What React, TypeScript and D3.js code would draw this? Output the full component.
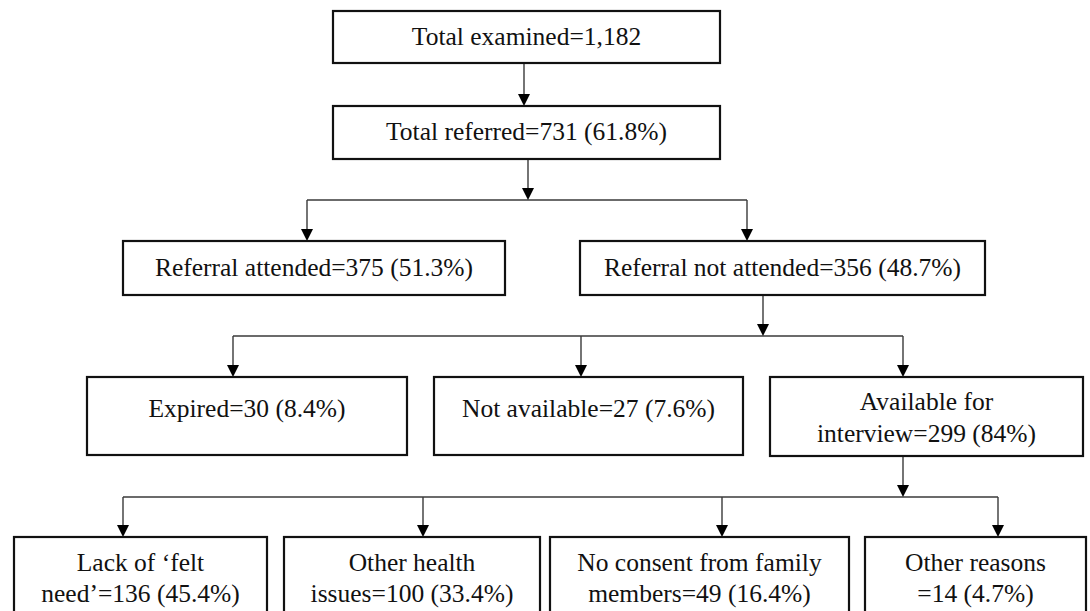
import React, { useEffect, useRef } from "react";
import * as d3 from "d3";

// flow data
const categories = [
  "Total examined",
  "Total referred",
  "Referral attended",
  "Referral not attended",
  "Expired",
  "Not available",
  "Available for interview",
  "Lack of \u2018felt need\u2019",
  "Other health issues",
  "No consent from family members",
  "Other reasons",
];
const counts = [1182, 731, 375, 356, 30, 27, 299, 136, 100, 49, 14];
const percents = ["", "61.8", "51.3", "48.7", "8.4", "7.6", "84", "45.4", "33.4", "16.4", "4.7"];
const parents = [-1, 0, 1, 1, 3, 3, 3, 6, 6, 6, 6];
// where the label wraps (characters of the category kept on line 1), -1 = no wrap
const wrapAt = [-1, -1, -1, -1, -1, -1, 13, 13, 12, 22, 13];

// layout (px)
const W = 1090;
const H = 611;
const boxes = [
  { x0: 333, x1: 720, y0: 11, y1: 63, base: [45] },
  { x0: 333, x1: 720, y0: 106, y1: 159, base: [140] },
  { x0: 123, x1: 505, y0: 241, y1: 295, base: [276] },
  { x0: 580, x1: 985, y0: 241, y1: 295, base: [276] },
  { x0: 87, x1: 407, y0: 377, y1: 455, base: [417] },
  { x0: 434, x1: 743, y0: 377, y1: 455, base: [417] },
  { x0: 770, x1: 1083, y0: 377, y1: 456, base: [410, 442] },
  { x0: 14, x1: 267, y0: 537, y1: 620, base: [571, 602] },
  { x0: 284, x1: 540, y0: 537, y1: 620, base: [571, 602] },
  { x0: 550, x1: 849, y0: 537, y1: 620, base: [571, 602] },
  { x0: 865, x1: 1086, y0: 537, y1: 620, base: [571, 602] },
];
const inX = [0, 524, 307, 747, 233, 581, 903, 123, 423, 722, 998];
const outX: Record<number, number> = { 0: 524, 1: 528, 3: 763, 6: 903 };
const busY: Record<number, number> = { 1: 200, 3: 336, 6: 497 };

const fmt = d3.format(",");

const labelLines = (i: number) => {
  const tail = `=${fmt(counts[i])}${percents[i] ? ` (${percents[i]}%)` : ""}`;
  const name = categories[i];
  if (wrapAt[i] < 0) return [name + tail];
  return [name.slice(0, wrapAt[i]).trim(), name.slice(wrapAt[i]).trim() + tail];
};

const App = () => {
  const ref = useRef<SVGSVGElement>(null);

  useEffect(() => {
    document.body.style.margin = "0";
    const svg = d3.select(ref.current);
    svg.selectAll("*").remove();

    const head = 12;
    const arrowHead = (x: number, y: number) =>
      `M${x},${y}L${x - head / 2},${y - head}L${x + head / 2},${y - head}Z`;

    const links = svg.append("g");
    const heads: [number, number][] = [];
    const line = d3.line();

    // connectors
    Object.keys(outX).forEach((k) => {
      const p = +k;
      const kids = d3.range(categories.length).filter((i) => parents[i] === p);
      const ox = outX[p];
      if (busY[p] === undefined) {
        const c = kids[0];
        links.append("path").attr("d", line([[ox, boxes[p].y1], [ox, boxes[c].y0 - head]]));
        heads.push([ox, boxes[c].y0]);
        return;
      }
      const by = busY[p];
      links.append("path").attr("d", line([[ox, boxes[p].y1], [ox, by - head]]));
      heads.push([ox, by]);
      const xs = kids.map((c) => inX[c]);
      links.append("path").attr("d", line([[d3.min(xs)!, by], [d3.max(xs)!, by]]));
      kids.forEach((c) => {
        links.append("path").attr("d", line([[inX[c], by], [inX[c], boxes[c].y0 - head]]));
        heads.push([inX[c], boxes[c].y0]);
      });
    });
    links.attr("fill", "none").attr("stroke", "#3a3a3a").attr("stroke-width", 1.4);

    svg
      .append("g")
      .selectAll("path")
      .data(heads)
      .join("path")
      .attr("d", (d) => arrowHead(d[0], d[1]))
      .attr("fill", "#000");

    // boxes
    const node = svg
      .append("g")
      .selectAll("g")
      .data(boxes)
      .join("g");

    node
      .append("rect")
      .attr("x", (d) => d.x0)
      .attr("y", (d) => d.y0)
      .attr("width", (d) => d.x1 - d.x0)
      .attr("height", (d) => d.y1 - d.y0)
      .attr("fill", "#fff")
      .attr("stroke", "#111")
      .attr("stroke-width", 2.2);

    node.each(function (d, i) {
      const lines = labelLines(i);
      d3.select(this)
        .selectAll("text")
        .data(lines)
        .join("text")
        .attr("x", (d.x0 + d.x1) / 2)
        .attr("y", (_, j) => d.base[j])
        .attr("text-anchor", "middle")
        .attr("font-family", "Liberation Serif, DejaVu Serif, serif")
        .attr("font-size", 25.5)
        .attr("fill", "#111")
        .text((t) => t);
    });
  }, []);

  return (
    <svg
      ref={ref}
      width={W}
      height={H}
      style={{ position: "absolute", left: 0, top: 0, background: "#fff", display: "block" }}
    />
  );
};

export default App;
